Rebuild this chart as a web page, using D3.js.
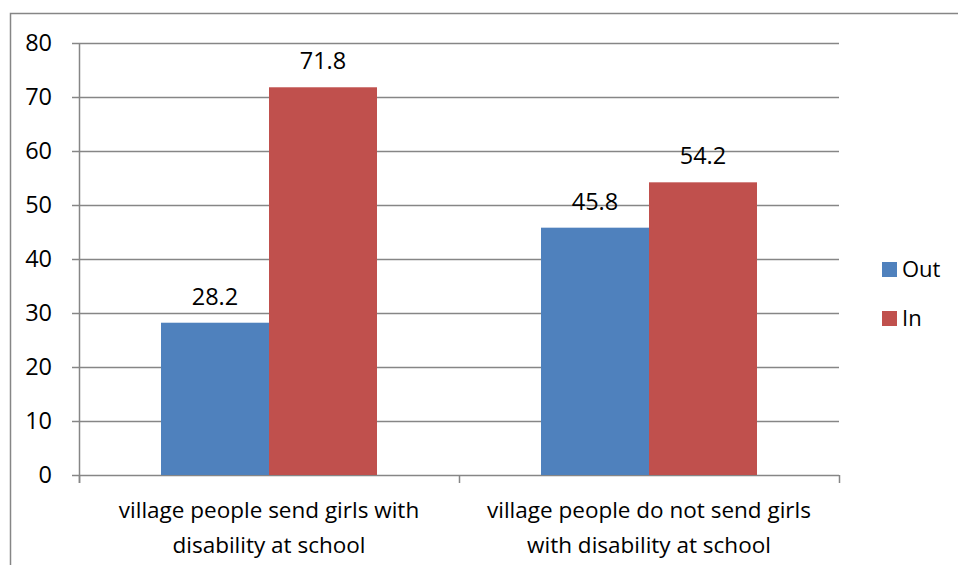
<!DOCTYPE html>
<html><head><meta charset="utf-8">
<script src="https://cdn.jsdelivr.net/npm/d3@7"></script>
<style>body{margin:0;background:#fff}svg{display:block}text{font-family:"Open Sans",Lato,sans-serif;fill:#000}</style>
</head><body>
<script>
const categories = [["village people send girls with","disability at school"],["village people do not send girls","with disability at school"]];
const seriesNames = ["Out","In"];
const outValues = [28.2, 45.8];
const inValues = [71.8, 54.2];
const yTicks = [0,10,20,30,40,50,60,70,80];
const colors = ["#4F81BD","#C0504D"];

const W=958,H=565;
const svg=d3.select("body").append("svg").attr("width",W).attr("height",H);
svg.append("rect").attr("x",10.5).attr("y",13.5).attr("width",1000).attr("height",1000).attr("fill","none").attr("stroke","#868686").attr("stroke-width",1.5);

const L=79,R=839,T=43,B=475;
const x=d3.scaleBand().domain(d3.range(categories.length)).range([L,R]).paddingInner(0).paddingOuter(0);
const y=d3.scaleLinear().domain([0,80]).range([B,T]);
const numFs=23.5, catFs=22.5, legFs=22;

// gridlines
svg.append("g").selectAll("line").data(yTicks).join("line")
 .attr("x1",L-7).attr("x2",R).attr("y1",d=>Math.round(y(d))+0.5).attr("y2",d=>Math.round(y(d))+0.5)
 .attr("stroke","#868686").attr("stroke-width",1.5);
// y axis
svg.append("line").attr("x1",L+0.5).attr("x2",L+0.5).attr("y1",T).attr("y2",B+8).attr("stroke","#868686").attr("stroke-width",1.5);
// category ticks
[0,1,2].forEach(i=>{const xx=L+i*x.bandwidth();svg.append("line").attr("x1",xx+0.5).attr("x2",xx+0.5).attr("y1",B).attr("y2",B+8).attr("stroke","#868686").attr("stroke-width",1.5);});
// y labels
svg.append("g").selectAll("text").data(yTicks).join("text")
 .attr("x",L-27).attr("y",d=>y(d)).attr("dy","0.36em").attr("text-anchor","end").attr("font-size",numFs).text(d=>d);

const barW=x.bandwidth()*108/380;
const series=[outValues,inValues];
series.forEach((vals,si)=>{
  const g=svg.append("g");
  g.selectAll("rect").data(vals).join("rect")
   .attr("x",(d,i)=>x(i)+x.bandwidth()/2-barW+si*barW).attr("width",barW)
   .attr("y",d=>y(d)).attr("height",d=>B-y(d)).attr("fill",colors[si]);
  g.selectAll("text").data(vals).join("text")
   .attr("x",(d,i)=>x(i)+x.bandwidth()/2-barW/2+si*barW).attr("y",d=>y(d)-18)
   .attr("text-anchor","middle").attr("font-size",numFs).text(d=>d.toFixed(1));
});
// category labels
categories.forEach((lines,i)=>{
  lines.forEach((ln,j)=>{
    svg.append("text").attr("x",x(i)+x.bandwidth()/2).attr("y",518+j*35).attr("text-anchor","middle").attr("font-size",catFs).text(ln);
  });
});
// legend
seriesNames.forEach((n,i)=>{
  svg.append("rect").attr("x",882).attr("y",262+i*49).attr("width",15).attr("height",15).attr("fill",colors[i]);
  svg.append("text").attr("x",902).attr("y",277+i*49).attr("font-size",legFs).text(n);
});
</script>
</body></html>
